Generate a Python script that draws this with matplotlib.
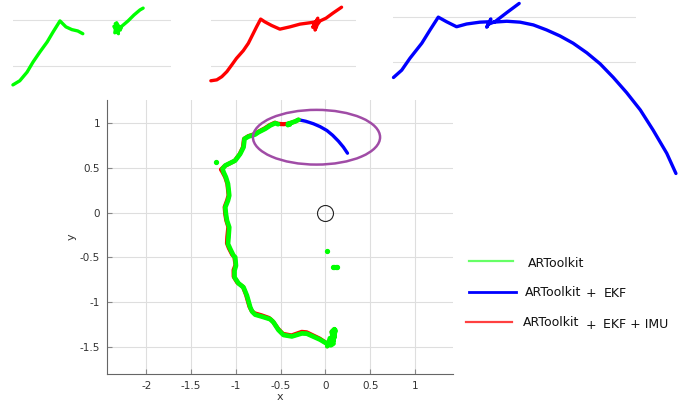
import numpy as np
import matplotlib.pyplot as plt
from matplotlib.patches import Ellipse

nan = np.nan

# ARToolkit marker track (x, y in m)
artk_x = [0.02, 0.06, 0.09, 0.10, 0.07, 0.09, 0.11, 0.08, 0.10, 0.06, 0.09, 0.05, 0.03, 0.016,
          -0.059, -0.208, -0.263, -0.375,
          -0.469, -0.525, -0.580, -0.617, -0.706, -0.785, -0.818, -0.840, -0.877, -0.915,
          -0.971, -1.016, -1.016, -1.000, -1.008, -1.027, -1.064, -1.089, -1.083, -1.075,
          -1.100, -1.112, -1.119, -1.089, -1.075, -1.083, -1.089, -1.112, -1.138, -1.150,
          -1.119, -1.008, -0.952, -0.915, -0.904, -0.859, -0.785, -0.748, -0.673, -0.617,
          -0.561, -0.530, nan, -0.420, -0.405, -0.418, -0.400, -0.394, -0.338, -0.301]
artk_y = [-1.49, -1.44, -1.36, -1.30, -1.33, -1.42, -1.31, -1.45, -1.38, -1.48, -1.46, -1.40,
          -1.47, -1.462,
          -1.417, -1.350, -1.347, -1.381,
          -1.365, -1.309, -1.224, -1.189, -1.161, -1.138, -1.105, -1.057, -0.926, -0.834,
          -0.789, -0.722, -0.647, -0.592, -0.499, -0.480, -0.405, -0.349, -0.276, -0.164,
          -0.089, -0.015, 0.059, 0.134, 0.190, 0.268, 0.320, 0.394, 0.450, 0.488,
          0.525, 0.580, 0.655, 0.729, 0.823, 0.848, 0.871, 0.896, 0.934, 0.971,
          0.997, 0.985, nan, 0.975, 0.995, 0.990, 0.980, 0.997, 1.016, 1.035]

# isolated ARToolkit detections
stray_x = [-1.220, 0.022, 0.085, 0.100, 0.115, 0.130]
stray_y = [0.561, -0.432, -0.605, -0.612, -0.610, -0.608]

# ARToolkit + EKF + IMU
imu_x = [0.02, 0.06, 0.09, 0.10, 0.07, 0.09, 0.05, 0.010, -0.065, -0.210, -0.265, -0.380,
         -0.475, -0.530, -0.590, -0.630, -0.715, -0.795, -0.828, -0.850, -0.887, -0.922,
         -0.985, -1.025, -1.026, -1.005, -1.018, -1.040, -1.078, -1.100, -1.096, -1.085,
         -1.108, -1.120, -1.126, -1.098, -1.082, -1.090, -1.096, -1.120, -1.150, -1.167,
         -1.125, -1.015, -0.958, -0.922, -0.910, -0.862, -0.790, -0.752, -0.680, -0.622,
         -0.565, -0.530, -0.470, -0.413, -0.394, -0.338, -0.301]
imu_y = [-1.49, -1.44, -1.36, -1.30, -1.33, -1.42, -1.47, -1.455, -1.405, -1.335, -1.330, -1.370,
         -1.352, -1.295, -1.210, -1.175, -1.145, -1.122, -1.090, -1.045, -0.916, -0.826,
         -0.780, -0.714, -0.640, -0.585, -0.490, -0.472, -0.398, -0.342, -0.270, -0.160,
         -0.086, -0.012, 0.062, 0.137, 0.193, 0.270, 0.322, 0.396, 0.452, 0.480,
         0.520, 0.576, 0.652, 0.727, 0.820, 0.852, 0.876, 0.900, 0.938, 0.976,
         1.002, 0.990, 0.985, 0.990, 0.997, 1.016, 1.035]

# ARToolkit + EKF (follows the track, then drifts off after the last marker)
ekf_x = [0.02, 0.06, 0.09, 0.07, 0.05, 0.016, -0.059, -0.208, -0.263, -0.375, -0.469, -0.525,
         -0.580, -0.617, -0.706, -0.785, -0.818, -0.840, -0.877, -0.915, -0.971, -1.016,
         -1.016, -1.000, -1.008, -1.027, -1.064, -1.089, -1.083, -1.075, -1.100, -1.112,
         -1.119, -1.089, -1.075, -1.083, -1.089, -1.112, -1.138, -1.150, -1.119, -1.008,
         -0.952, -0.915, -0.904, -0.859, -0.785, -0.748, -0.673, -0.617, -0.561, -0.506,
         -0.431, -0.394, -0.338, -0.301, -0.220, -0.134, -0.060, 0.016, 0.080, 0.145,
         0.200, 0.246]
ekf_y = [-1.49, -1.44, -1.36, -1.42, -1.47, -1.462, -1.417, -1.350, -1.347, -1.381, -1.365, -1.309,
         -1.224, -1.189, -1.161, -1.138, -1.105, -1.057, -0.926, -0.834, -0.789, -0.722,
         -0.647, -0.592, -0.499, -0.480, -0.405, -0.349, -0.276, -0.164, -0.089, -0.015,
         0.059, 0.134, 0.190, 0.268, 0.320, 0.394, 0.450, 0.488, 0.525, 0.580,
         0.655, 0.729, 0.823, 0.848, 0.871, 0.896, 0.934, 0.971, 0.997, 0.982,
         0.990, 0.997, 1.016, 1.035, 1.018, 0.990, 0.958, 0.915, 0.862, 0.796,
         0.730, 0.662]

# close-ups of the top corner (enlarged scale)
zoom_artk_x = [-0.663, -0.648, -0.632, -0.619, -0.604, -0.588, -0.575, -0.560, -0.547, -0.534,
               -0.521, -0.510, nan, -0.440, -0.436, -0.428, -0.442, -0.432, -0.439, -0.426,
               -0.437, -0.424, -0.411, -0.398, -0.385, -0.378]
zoom_artk_y = [0.858, 0.867, 0.886, 0.908, 0.930, 0.952, 0.974, 0.998, 0.985, 0.979,
               0.976, 0.970, nan, 0.972, 0.994, 0.978, 0.986, 0.970, 0.992, 0.982,
               0.976, 0.987, 0.998, 1.011, 1.022, 1.026]

zoom_imu_x = [-0.669, -0.656, -0.645, -0.634, -0.623, -0.613, -0.598, -0.587, -0.576, -0.569,
              -0.560, -0.551, -0.536, -0.518, -0.496, -0.474, -0.452, -0.439, -0.446, -0.435,
              -0.441, -0.436, -0.430, -0.417, -0.402, -0.383]
zoom_imu_y = [0.867, 0.869, 0.876, 0.887, 0.902, 0.916, 0.933, 0.949, 0.971, 0.985,
              1.002, 0.996, 0.988, 0.980, 0.985, 0.991, 0.994, 0.996, 0.984, 1.004,
              0.978, 0.990, 0.998, 1.004, 1.015, 1.028]

zoom_ekf_x = [-0.658, -0.640, -0.622, -0.596, -0.578, -0.560, -0.542, -0.520, -0.498, -0.469,
              -0.447, -0.454, -0.445, -0.449, -0.436, -0.410, -0.383, nan,
              -0.440, -0.410, -0.381, -0.352, -0.323, -0.294, -0.265, -0.235, -0.206,
              -0.177, -0.148, -0.118, -0.090, -0.060, -0.040]
zoom_ekf_y = [0.867, 0.883, 0.909, 0.942, 0.971, 0.999, 0.989, 0.978, 0.984, 0.988,
              0.989, 0.977, 0.995, 0.984, 0.989, 1.009, 1.029, nan,
              0.988, 0.990, 0.988, 0.982, 0.971, 0.958, 0.942, 0.921, 0.897,
              0.867, 0.834, 0.796, 0.752, 0.701, 0.657]

GREEN = '#00ff00'
RED = '#ff0000'
BLUE = '#0000ff'

fig = plt.figure(figsize=(6.86, 4.08), dpi=100)

# main trajectory plot
ax = fig.add_axes([0.156, 0.0833, 0.5044, 0.6716])
ax.plot(ekf_x, ekf_y, color=BLUE, lw=2.4, solid_capstyle='round', zorder=3)
ax.plot(imu_x, imu_y, color=RED, lw=3, solid_capstyle='round', zorder=4)
ax.plot(artk_x, artk_y, color=GREEN, lw=3.4, solid_capstyle='round', zorder=5)
ax.plot(stray_x, stray_y, ls='none', marker='o', ms=2.8, mfc=GREEN, mec=GREEN, zorder=5)

ax.add_patch(Ellipse((-0.10, 0.84), 1.42, 0.61, fill=False, ec='#a04ca6', lw=1.8, zorder=6))
ax.plot([0], [0], marker='o', ms=11.5, mfc='none', mec='#222222', mew=0.8, zorder=6)

ax.set_xlim(-2.44, 1.425)
ax.set_ylim(-1.80, 1.255)
ax.set_xticks(np.arange(-2, 1.01, 0.5))
ax.set_yticks(np.arange(-1.5, 1.01, 0.5))
ax.set_xticklabels(['-2', '-1.5', '-1', '-0.5', '0', '0.5', '1'])
ax.set_yticklabels(['-1.5', '-1', '-0.5', '0', '0.5', '1'])
ax.grid(True, color='#dedede', lw=0.8)
ax.set_axisbelow(True)
for side in ['top', 'right']:
    ax.spines[side].set_visible(False)
for side in ['left', 'bottom']:
    ax.spines[side].set_color('#666666')
ax.tick_params(direction='in', length=3.5, color='#888888', labelsize=7.5,
               labelcolor='#333333', pad=5)
ax.set_xlabel('x', fontsize=8, color='#333333', labelpad=1)
ax.set_ylabel('y', fontsize=8, color='#333333', labelpad=2)


def close_up(rect, xlim, ylim, xs, ys, color):
    a = fig.add_axes(rect)
    a.plot(xs, ys, color=color, lw=2.4, solid_capstyle='round', clip_on=False)
    a.set_xlim(*xlim)
    a.set_ylim(*ylim)
    a.set_yticks([0.9, 1.0])
    a.set_xticks([])
    a.grid(True, axis='y', color='#e0e0e0', lw=0.8)
    a.tick_params(left=False, labelleft=False)
    for s in a.spines.values():
        s.set_visible(False)
    a.patch.set_alpha(0)
    return a


close_up([0.0185, 0.7794, 0.2303, 0.2206], (-0.6635, -0.3177), (0.8468, 1.0438),
         zoom_artk_x, zoom_artk_y, GREEN)
close_up([0.3071, 0.7794, 0.2114, 0.2206], (-0.6694, -0.3521), (0.8468, 1.0438),
         zoom_imu_x, zoom_imu_y, RED)
close_up([0.5724, 0.7794, 0.3547, 0.2206], (-0.6598, -0.1274), (0.8396, 1.0365),
         zoom_ekf_x, zoom_ekf_y, BLUE)

# legend drawn by hand to the right of the plot
W, H = 686.0, 408.0
fig.add_artist(plt.Line2D([469 / W, 513 / W], [1 - 260.5 / H] * 2, color='#66ff66', lw=1.6))
fig.add_artist(plt.Line2D([469 / W, 515.5 / W], [1 - 291.5 / H] * 2, color=BLUE, lw=2.0))
fig.add_artist(plt.Line2D([466 / W, 512 / W], [1 - 321.5 / H] * 2, color='#ff4040', lw=1.6))

txt = dict(fontsize=9, color='#111111', va='baseline', ha='left')
fig.text(528 / W, 1 - 267 / H, 'ARToolkit', **txt)
fig.text(525 / W, 1 - 295.5 / H, 'ARToolkit', **txt)
fig.text(586 / W, 1 - 297 / H, '+', **txt)
fig.text(603.5 / W, 1 - 297 / H, 'EKF', **txt)
fig.text(523 / W, 1 - 325.5 / H, 'ARToolkit', **txt)
fig.text(586 / W, 1 - 329 / H, '+', **txt)
fig.text(603 / W, 1 - 327.5 / H, 'EKF + IMU', **txt)

fig.savefig('out.png', dpi=100)
